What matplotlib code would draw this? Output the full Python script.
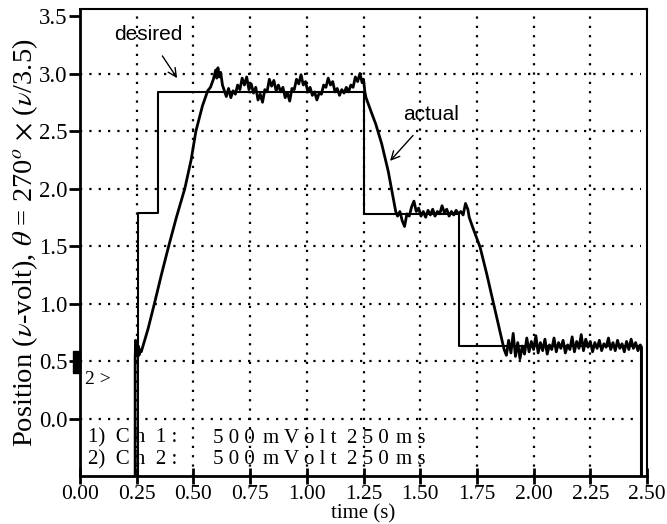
# Servo position response: desired vs actual (scope trace)
import matplotlib
matplotlib.use('Agg')
import matplotlib.pyplot as plt
import numpy as np

plt.rcParams['font.family'] = ['Liberation Serif', 'DejaVu Serif']
plt.rcParams['mathtext.fontset'] = 'stix'

# desired (ch 1) - step levels
desired_t = [0.256, 0.256, 0.345, 0.345, 1.250, 1.250, 1.672, 1.672, 2.475, 2.475]
desired_v = [-0.5, 1.79, 1.79, 2.84, 2.84, 1.78, 1.78, 0.63, 0.63, -0.5]

# actual (ch 2) - start and ramp up
rise_t = [0.243, 0.243, 0.245, 0.248, 0.251, 0.254, 0.257, 0.260, 0.264, 0.270,
          0.300, 0.328, 0.360, 0.391, 0.425, 0.462, 0.490, 0.511, 0.540, 0.563,
          0.575, 0.588, 0.598, 0.603, 0.608, 0.614, 0.620, 0.628]
rise_v = [-0.5, 0.52, 0.68, 0.55, 0.66, 0.56, 0.63, 0.55, 0.60, 0.58,
          0.78, 1.00, 1.26, 1.50, 1.75, 2.00, 2.25, 2.50, 2.72, 2.85,
          2.88, 2.95, 3.03, 2.96, 3.05, 2.97, 3.01, 2.90]

# actual - first hold (~2.85 V), 0.63 .. 1.24 s
hold1_v = [2.86, 2.80, 2.87, 2.79, 2.85, 2.82, 2.90, 2.86, 2.96, 2.90,
           2.97, 2.86, 2.91, 2.83, 2.88, 2.77, 2.82, 2.75, 2.86, 2.84,
           2.95, 2.89, 2.94, 2.85, 2.90, 2.84, 2.88, 2.79, 2.83, 2.76,
           2.87, 2.86, 2.95, 2.91, 2.99, 2.90, 2.93, 2.84, 2.88, 2.81,
           2.84, 2.77, 2.83, 2.82, 2.90, 2.88, 2.96, 2.90, 2.93, 2.84,
           2.87, 2.81, 2.86, 2.83, 2.88, 2.84, 2.90, 2.88, 2.97, 2.93,
           3.00, 2.92]

# actual - first descent
fall1_t = [1.250, 1.256, 1.261, 1.285, 1.304, 1.330, 1.359, 1.381, 1.392]
fall1_v = [2.95, 2.84, 2.79, 2.66, 2.56, 2.39, 2.15, 1.92, 1.80]

# actual - second hold (~1.78 V), 1.40 .. 1.71 s
hold2_v = [1.76, 1.80, 1.72, 1.67, 1.78, 1.76, 1.84, 1.89, 1.80, 1.83,
           1.76, 1.80, 1.75, 1.81, 1.77, 1.82, 1.76, 1.80, 1.78, 1.85,
           1.79, 1.82, 1.76, 1.80, 1.77, 1.81, 1.78, 1.80, 1.77, 1.87,
           1.82]

# actual - second descent
fall2_t = [1.716, 1.732, 1.764, 1.793, 1.827, 1.848, 1.861]
fall2_v = [1.75, 1.66, 1.49, 1.26, 0.97, 0.79, 0.68]

# actual - third hold (~0.62 V), 1.87 .. 2.47 s
hold3_v = [0.60, 0.55, 0.68, 0.57, 0.74, 0.54, 0.66, 0.52, 0.63, 0.56,
           0.70, 0.58, 0.67, 0.60, 0.72, 0.57, 0.66, 0.59, 0.69, 0.56,
           0.64, 0.60, 0.70, 0.58, 0.66, 0.61, 0.68, 0.57, 0.64, 0.60,
           0.71, 0.58, 0.67, 0.61, 0.73, 0.59, 0.69, 0.62, 0.67, 0.58,
           0.66, 0.61, 0.68, 0.59, 0.65, 0.62, 0.70, 0.60, 0.66, 0.59,
           0.68, 0.61, 0.65, 0.58, 0.67, 0.60, 0.69, 0.61, 0.66, 0.59,
           0.64]

end_t = [2.476, 2.476]
end_v = [0.62, -0.5]

xticks = [0.00, 0.25, 0.50, 0.75, 1.00, 1.25, 1.50, 1.75, 2.00, 2.25, 2.50]
yticks = [0.0, 0.5, 1.0, 1.5, 2.0, 2.5, 3.0, 3.5]

actual_t = (rise_t + list(np.linspace(0.635, 1.244, len(hold1_v))) + fall1_t
            + list(np.linspace(1.40, 1.71, len(hold2_v))) + fall2_t
            + list(np.linspace(1.87, 2.47, len(hold3_v))) + end_t)
actual_v = rise_v + hold1_v + fall1_v + hold2_v + fall2_v + hold3_v + end_v

fig = plt.figure(figsize=(6.67, 5.24), dpi=100)
ax = fig.add_axes([0.12, 0.0916, 0.85, 0.891])

# dotted grid
for x in xticks[1:-1]:
    ax.axvline(x, color='black', lw=1.6, ls=(0, (1, 3.2)), zorder=1)
for y in yticks[:-1]:
    ax.axhline(y, xmax=0.99, color='black', lw=1.6, ls=(0, (1, 3.2)), zorder=1)

ax.plot(desired_t, desired_v, color='black', lw=1.5, zorder=3)
ax.plot(actual_t, actual_v, color='black', lw=2.0, zorder=3)

ax.set_xlim(0, 2.5)
ax.set_ylim(-0.5, 3.56)
ax.set_xticks(xticks)
ax.set_xticklabels(['%.2f' % v for v in xticks])
ax.set_yticks(yticks)
ax.set_yticklabels(['%.1f' % v for v in yticks])
ax.tick_params(axis='x', direction='inout', length=11, width=2, labelsize=15.5, pad=1)
ax.tick_params(axis='y', direction='out', length=8, width=2, labelsize=16.5, pad=1)
for s in ['left', 'bottom']:
    ax.spines[s].set_linewidth(2)
for s in ['top', 'right']:
    ax.spines[s].set_linewidth(1.5)

ax.set_xlabel('time (s)', fontsize=15, labelpad=0)
ax.set_ylabel(r'Position ($\nu$-volt), $\theta$ = 270$^o$ $\times$ ($\nu$/3.5)', fontsize=20.5, labelpad=-1)

# scope channel info
for row, y in [('1', -0.17), ('2', -0.36)]:
    ax.text(0.035, y, '%s)  C h  %s :' % (row, row), fontsize=15, va='center')
    ax.text(0.585, y, '5 0 0', fontsize=15, va='center')
    ax.text(0.805, y, 'm V o l t', fontsize=15, va='center')
    ax.text(1.175, y, '2 5 0', fontsize=15, va='center')
    ax.text(1.395, y, 'm s', fontsize=15, va='center')
ax.text(0.02, 0.34, '2 >', fontsize=14, va='center')
ax.add_patch(plt.Rectangle((-0.03, 0.40), 0.03, 0.19, color='black', clip_on=False, zorder=4))

ax.annotate('desired', xy=(0.428, 2.96), xytext=(0.30, 3.34), fontsize=15,
            family='Liberation Sans', ha='center', va='center',
            arrowprops=dict(arrowstyle='->', color='black', lw=1, shrinkA=8, shrinkB=0))
ax.annotate('actual', xy=(1.367, 2.24), xytext=(1.55, 2.64), fontsize=15,
            family='Liberation Sans', ha='center', va='center',
            arrowprops=dict(arrowstyle='->', color='black', lw=1, shrinkA=8, shrinkB=0))

fig.savefig('out.png', dpi=100)
